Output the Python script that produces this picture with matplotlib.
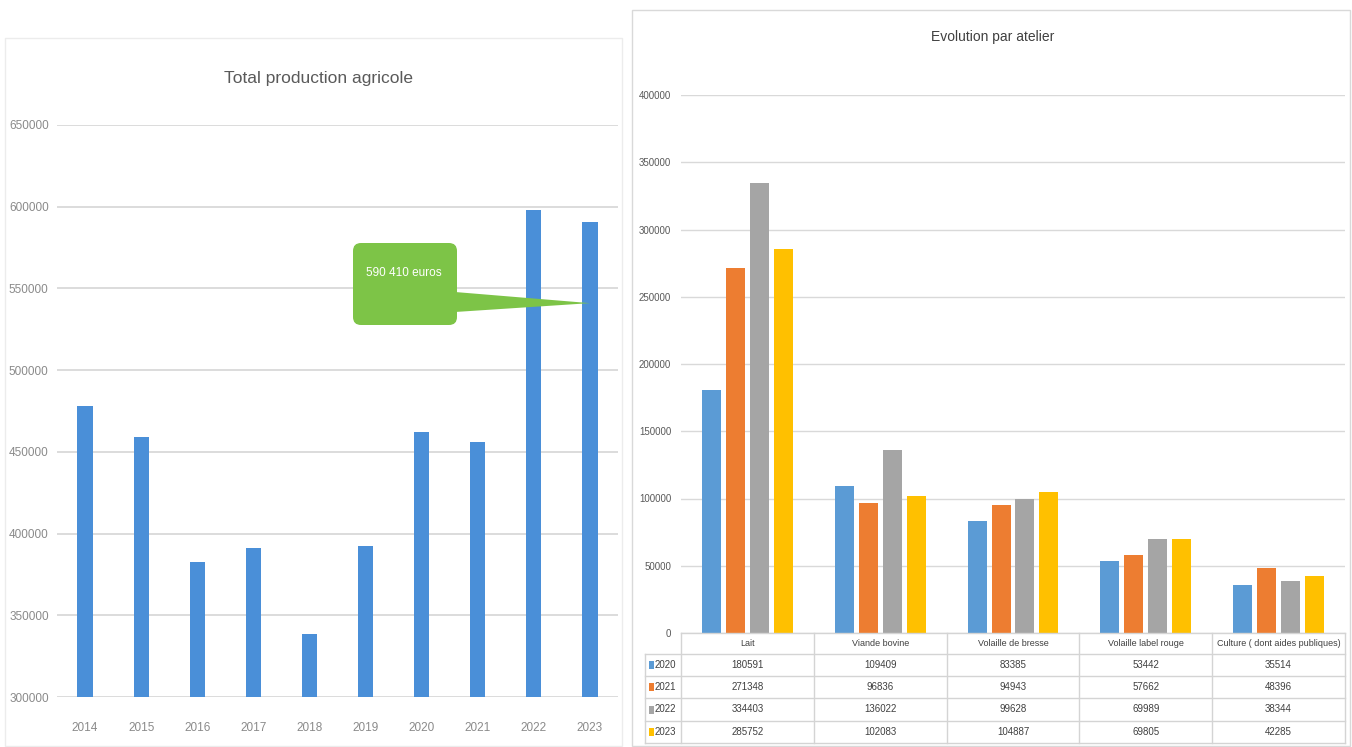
import matplotlib
matplotlib.use("Agg")
import matplotlib.pyplot as plt
from matplotlib.patches import FancyBboxPatch, Polygon, Rectangle
from matplotlib.transforms import Affine2D
from matplotlib.lines import Line2D

plt.rcParams["font.family"] = ["Liberation Sans", "DejaVu Sans"]

# --- Total production per year ---
years = ["2014", "2015", "2016", "2017", "2018", "2019", "2020", "2021", "2022", "2023"]
totals = [478000, 459000, 382500, 391000, 338500, 392500, 462000, 456000, 598000, 590410]
callout_text = "590 410 euros"
callout_value = 541000

# --- Production per workshop ---
ateliers = ["Lait", "Viande bovine", "Volaille de bresse", "Volaille label rouge",
            "Culture ( dont aides publiques)"]
series_names = ["2020", "2021", "2022", "2023"]
v2020 = [180591, 109409, 83385, 53442, 35514]
v2021 = [271348, 96836, 94943, 57662, 48396]
v2022 = [334403, 136022, 99628, 69989, 38344]
v2023 = [285752, 102083, 104887, 69805, 42285]
series_values = [v2020, v2021, v2022, v2023]
series_colors = ["#5b9bd5", "#ed7d31", "#a5a5a5", "#ffc000"]

W, H = 1352, 747
fig = plt.figure(figsize=(W / 100, H / 100), dpi=100)
fig.patch.set_facecolor("white")
# pixel coordinates with origin at the top-left corner
pix = Affine2D().scale(1.0 / W, -1.0 / H).translate(0, 1) + fig.transFigure


def box(x0, y0, x1, y1):
    return [x0 / W, 1 - y1 / H, (x1 - x0) / W, (y1 - y0) / H]


# panel frames
fig.patches.append(Rectangle((5, 38), 617, 708, transform=pix, fill=False,
                             edgecolor="#ececec", lw=1.0))
fig.patches.append(Rectangle((632, 10), 718, 736, transform=pix, fill=False,
                             edgecolor="#d9d9d9", lw=1.0))

# ---------------- left chart ----------------
ax1 = fig.add_axes(box(57, 125, 618, 697))
x1 = list(range(len(years)))
ax1.bar(x1, totals, width=0.27, color="#4a8fd8", zorder=3)
ax1.set_xlim(-0.5, len(years) - 0.5)
ax1.set_ylim(300000, 650000)
ax1.set_yticks(range(300000, 650001, 50000))
ax1.set_xticks(x1)
ax1.set_xticklabels(years)
ax1.grid(axis="y", color="#dcdcdc", lw=1.4, zorder=0)
for s in ax1.spines.values():
    s.set_visible(False)
ax1.tick_params(length=0, labelsize=8.5, colors="#8a8a8a")
ax1.tick_params(axis="y", pad=6)
ax1.tick_params(axis="x", pad=18)
ax1.patch.set_alpha(0)
fig.text(318 / W, 1 - 78 / H, "Total production agricole", ha="center", va="center",
         fontsize=12.5, color="#5a5a5a")

# callout pointing at the last bar
fig.canvas.draw()
tx, ty = ax1.transData.transform((len(years) - 1, callout_value))
ty = H - ty
fig.patches.append(FancyBboxPatch((353, 243), 104, 82, transform=pix,
                                  boxstyle="round,pad=0,rounding_size=8",
                                  facecolor="#7dc447", edgecolor="none", zorder=5))
fig.patches.append(Polygon([(455, 292), (tx, ty), (455, 312)], closed=True,
                           transform=pix, facecolor="#7dc447", edgecolor="none", zorder=5))
fig.text(404 / W, 1 - 273 / H, callout_text, ha="center", va="center",
         fontsize=8.5, color="white", zorder=6)

# ---------------- right chart ----------------
ax2 = fig.add_axes(box(681, 95, 1345, 633))
n = len(ateliers)
pitch, bw = 0.18, 0.143
for i, (vals, col) in enumerate(zip(series_values, series_colors)):
    off = (i - 1.5) * pitch
    ax2.bar([k + off for k in range(n)], vals, width=bw, color=col, zorder=3)
ax2.set_xlim(-0.5, n - 0.5)
ax2.set_ylim(0, 400000)
ax2.set_yticks(range(0, 400001, 50000))
ax2.set_xticks([])
ax2.grid(axis="y", color="#d9d9d9", lw=1.0, zorder=0)
for s in ax2.spines.values():
    s.set_visible(False)
ax2.tick_params(length=0, labelsize=7, colors="#595959", pad=7)
fig.text(993 / W, 1 - 37 / H, "Evolution par atelier", ha="center", va="center",
         fontsize=10, color="#404040")

# data table under the right chart
fig.canvas.draw()
col_edges = [ax2.transData.transform((k - 0.5, 0))[0] for k in range(n + 1)]
row_edges = [633, 654, 676, 698, 721, 743]
left_edge = 645
gc = "#d4d4d4"
fig.lines.append(Line2D([col_edges[0], col_edges[-1]], [row_edges[0]] * 2,
                        transform=pix, color=gc, lw=1.0))
for ry in row_edges[1:]:
    fig.lines.append(Line2D([left_edge, col_edges[-1]], [ry, ry], transform=pix,
                            color=gc, lw=1.0))
fig.lines.append(Line2D([left_edge, left_edge], [row_edges[1], row_edges[-1]],
                        transform=pix, color=gc, lw=1.0))
for cx in col_edges:
    fig.lines.append(Line2D([cx, cx], [row_edges[0], row_edges[-1]], transform=pix,
                            color=gc, lw=1.0))

for k, name in enumerate(ateliers):
    cx = (col_edges[k] + col_edges[k + 1]) / 2
    fig.text(cx / W, 1 - (row_edges[0] + row_edges[1]) / 2 / H, name,
             ha="center", va="center", fontsize=6.5, color="#404040")
for r, (sname, vals, col) in enumerate(zip(series_names, series_values, series_colors)):
    cy = (row_edges[r + 1] + row_edges[r + 2]) / 2
    fig.patches.append(Rectangle((649, cy - 4), 5, 8, transform=pix,
                                 facecolor=col, edgecolor="none"))
    fig.text(655 / W, 1 - cy / H, sname, ha="left", va="center", fontsize=7,
             color="#404040")
    for k, v in enumerate(vals):
        cx = (col_edges[k] + col_edges[k + 1]) / 2
        fig.text(cx / W, 1 - cy / H, str(v), ha="center", va="center",
                 fontsize=7, color="#404040")

fig.savefig("out.png", dpi=100)
